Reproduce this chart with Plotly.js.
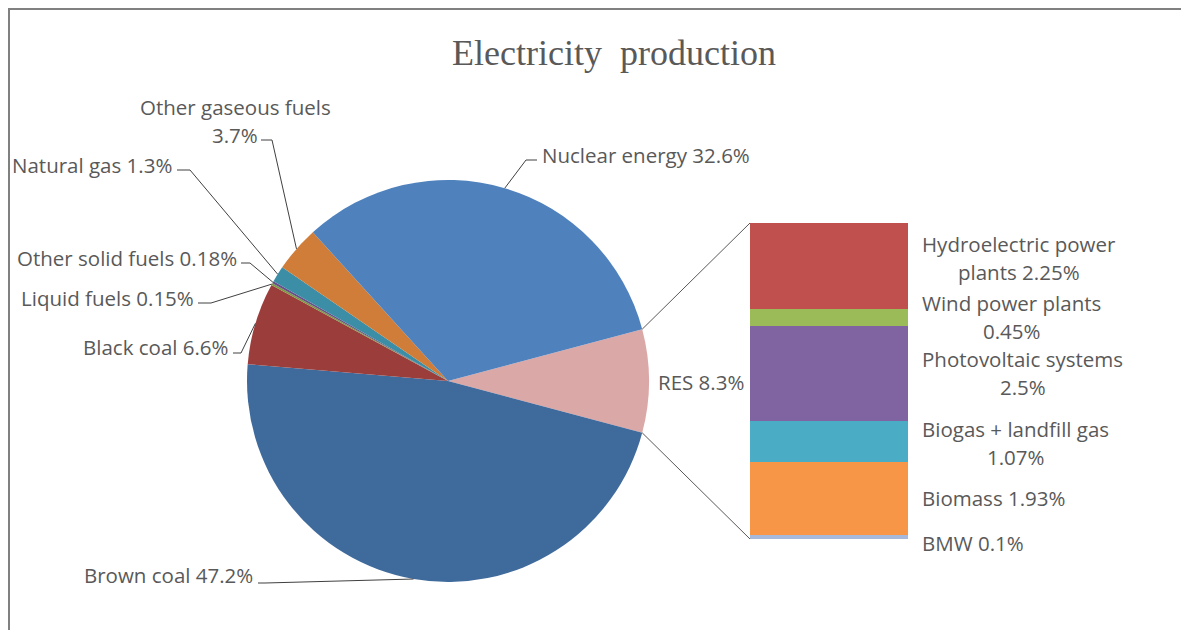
<!DOCTYPE html>
<html>
<head>
<meta charset="utf-8">
<script src="https://cdn.plot.ly/plotly-3.0.1.min.js"></script>
<style>html,body{margin:0;padding:0;background:#fff;}#chart{width:1181px;height:630px;}</style>
</head>
<body>
<div id="chart"></div>
<script>
// ---------------- DATA ----------------
const pieNames  = ['RES', 'Brown coal', 'Black coal', 'Liquid fuels', 'Other solid fuels', 'Natural gas', 'Other gaseous fuels', 'Nuclear energy'];
const pieValues = [8.3, 47.2, 6.6, 0.15, 0.18, 1.3, 3.7, 32.6];

const resNames  = ['BMW', 'Biomass', 'Biogas + landfill gas', 'Photovoltaic systems', 'Wind power plants', 'Hydroelectric power plants'];
const resValues = [0.1, 1.93, 1.07, 2.5, 0.45, 2.25];

const chartTitle = 'Electricity\u00a0 production';

// ---------------- STYLE / LAYOUT ----------------
const W = 1181, H = 630;
const px = x => x / W;
const py = y => 1 - y / H;

const pieColors = ['#DBA8A8', '#3F6A9C', '#9B3E3B', '#7E9A42', '#684F87', '#3B8EA5', '#CF7D38', '#4F81BD'];
const resColors = ['#A7B9DA', '#F79646', '#4BACC6', '#8064A2', '#9BBB59', '#C0504D'];

const PIE = {cx: 448, cy: 381, r: 201};
const BAR = {x0: 750, x1: 908, y0: 223, y1: 539};

const FONT = "'Open Sans', 'Noto Sans', sans-serif";
const FS = 20.5;
const TXT = '#595959';
const LINE_H = 28;

// label placement (pixels) for pie labels
const pieLabelLayout = {
  'Nuclear energy':      {x: 540, y: 155, anchor: 'left',   line: [[537, 160], [526, 160]]},
  'Other gaseous fuels': {x: 235, y: 121, anchor: 'center', breakAfter: 3, line: [[261, 140], [272, 140]]},
  'Natural gas':         {x: 174, y: 165, anchor: 'right',  line: [[177, 170], [190, 170]]},
  'Other solid fuels':   {x: 239, y: 258, anchor: 'right',  line: [[241, 263], [250, 263]]},
  'Liquid fuels':        {x: 196, y: 298, anchor: 'right',  line: [[198, 303], [211, 303]]},
  'Black coal':          {x: 231, y: 347, anchor: 'right',  line: [[233, 353], [241, 353]]},
  'Brown coal':          {x: 255, y: 575, anchor: 'right',  line: [[258, 583], [265, 583]]},
  'RES':                 {x: 701, y: 382, anchor: 'center', line: null}
};
// label placement for bar labels
const resLabelLayout = {
  'BMW':                        {shift: -6},
  'Biomass':                    {shift: 0},
  'Biogas + landfill gas':      {shift: -2, breakAfter: 4},
  'Photovoltaic systems':       {shift: 0, breakAfter: 2},
  'Wind power plants':          {shift: 0, breakAfter: 3},
  'Hydroelectric power plants': {shift: 8, breakAfter: 2}
};
const BAR_LABEL_LEFT = 922;

// --------------- helpers ---------------
const ctx = document.createElement('canvas').getContext('2d');
ctx.font = FS + 'px ' + FONT;
const textW = s => ctx.measureText(s).width;

function splitLabel(name, value, breakAfter) {
  const full = name + ' ' + value + '%';
  if (!breakAfter) return [full];
  const words = full.split(' ');
  return [words.slice(0, breakAfter).join(' '), words.slice(breakAfter).join(' ')];
}

const total = pieValues.reduce((a, b) => a + b, 0);
// RES slice centred on the right (3 o'clock) like the Excel bar-of-pie
const rotation = 90 - (pieValues[0] / total * 360) / 2;

function piePoint(angDeg) {
  const a = angDeg * Math.PI / 180;
  return [PIE.cx + PIE.r * Math.sin(a), PIE.cy - PIE.r * Math.cos(a)];
}

const annotations = [];
const shapes = [];

// frame (top and left edges visible)
shapes.push({type: 'line', xref: 'paper', yref: 'paper', x0: px(9), x1: 1, y0: py(9), y1: py(9),
  line: {color: '#808080', width: 2}, layer: 'below'});
shapes.push({type: 'line', xref: 'paper', yref: 'paper', x0: px(9), x1: px(9), y0: py(8), y1: 0,
  line: {color: '#808080', width: 2}, layer: 'below'});

// pie labels + leader lines
let cum = rotation;
const sliceEdges = [];
pieValues.forEach((v, i) => {
  const span = v / total * 360;
  const start = cum, mid = cum + span / 2, end = cum + span;
  sliceEdges.push([start, end]);
  cum = end;
  const name = pieNames[i];
  const L = pieLabelLayout[name];
  const lines = splitLabel(name, v, L.breakAfter);
  lines.forEach((t, k) => {
    annotations.push({xref: 'paper', yref: 'paper', x: px(L.x), y: py(L.y + (k - (lines.length - 1) / 2) * LINE_H),
      xanchor: L.anchor, yanchor: 'middle', text: t, showarrow: false,
      font: {family: FONT, size: FS, color: TXT}});
  });
  if (L.line) {
    const p = piePoint(mid);
    const pts = L.line.concat([p]);
    const path = 'M ' + pts.map(q => px(q[0]) + ',' + py(q[1])).join(' L ');
    shapes.push({type: 'path', xref: 'paper', yref: 'paper', path: path, line: {color: '#404040', width: 1}});
  }
});

// connectors from RES slice edges to bar corners
const resEdge = sliceEdges[0];
const pTop = piePoint(resEdge[0]);
const pBot = piePoint(resEdge[1]);
shapes.push({type: 'line', xref: 'paper', yref: 'paper', x0: px(pTop[0]), y0: py(pTop[1]), x1: px(BAR.x0), y1: py(BAR.y0), line: {color: '#595959', width: 1}});
shapes.push({type: 'line', xref: 'paper', yref: 'paper', x0: px(pBot[0]), y0: py(pBot[1]), x1: px(BAR.x0), y1: py(BAR.y1), line: {color: '#595959', width: 1}});

// bar labels
const resTotal = resValues.reduce((a, b) => a + b, 0);
let acc = 0;
resValues.forEach((v, i) => {
  const midVal = acc + v / 2;
  acc += v;
  const name = resNames[i];
  const L = resLabelLayout[name];
  const lines = splitLabel(name, v, L.breakAfter);
  const maxW = Math.max(...lines.map(textW));
  const cxp = BAR_LABEL_LEFT + maxW / 2;
  lines.forEach((t, k) => {
    annotations.push({xref: 'paper', yref: 'y', x: px(cxp), y: midVal,
      yshift: L.shift - (k - (lines.length - 1) / 2) * LINE_H,
      xanchor: 'center', yanchor: 'middle', text: t, showarrow: false,
      font: {family: FONT, size: FS, color: TXT}});
  });
});

// --------------- traces ---------------
const traces = [];
traces.push({
  type: 'pie', values: pieValues, labels: pieNames, sort: false, direction: 'clockwise',
  rotation: rotation, marker: {colors: pieColors, line: {width: 0}},
  textinfo: 'none', textposition: 'none', hoverinfo: 'label+value', automargin: false,
  domain: {x: [px(PIE.cx - PIE.r), px(PIE.cx + PIE.r)], y: [py(PIE.cy + PIE.r), py(PIE.cy - PIE.r)]},
  showlegend: false
});
resValues.forEach((v, i) => {
  traces.push({type: 'bar', x: [0], y: [v], name: resNames[i], width: 1,
    marker: {color: resColors[i], line: {width: 0}}, hoverinfo: 'name+y', showlegend: false});
});

const layout = {
  width: W, height: H,
  margin: {l: 0, r: 0, t: 0, b: 0, pad: 0},
  paper_bgcolor: '#FFFFFF', plot_bgcolor: 'rgba(0,0,0,0)',
  barmode: 'stack',
  showlegend: false,
  title: {text: chartTitle, x: px(614), y: py(52), xref: 'paper', yref: 'paper', xanchor: 'center', yanchor: 'middle',
    font: {family: "'Liberation Serif', 'Times New Roman', serif", size: 36, color: TXT}},
  xaxis: {domain: [px(BAR.x0), px(BAR.x1)], range: [-0.5, 0.5], visible: false, fixedrange: true},
  yaxis: {domain: [py(BAR.y1), py(BAR.y0)], range: [0, resTotal], visible: false, fixedrange: true},
  annotations: annotations,
  shapes: shapes
};

Plotly.newPlot('chart', traces, layout, {displayModeBar: false, staticPlot: true});
</script>
</body>
</html>
